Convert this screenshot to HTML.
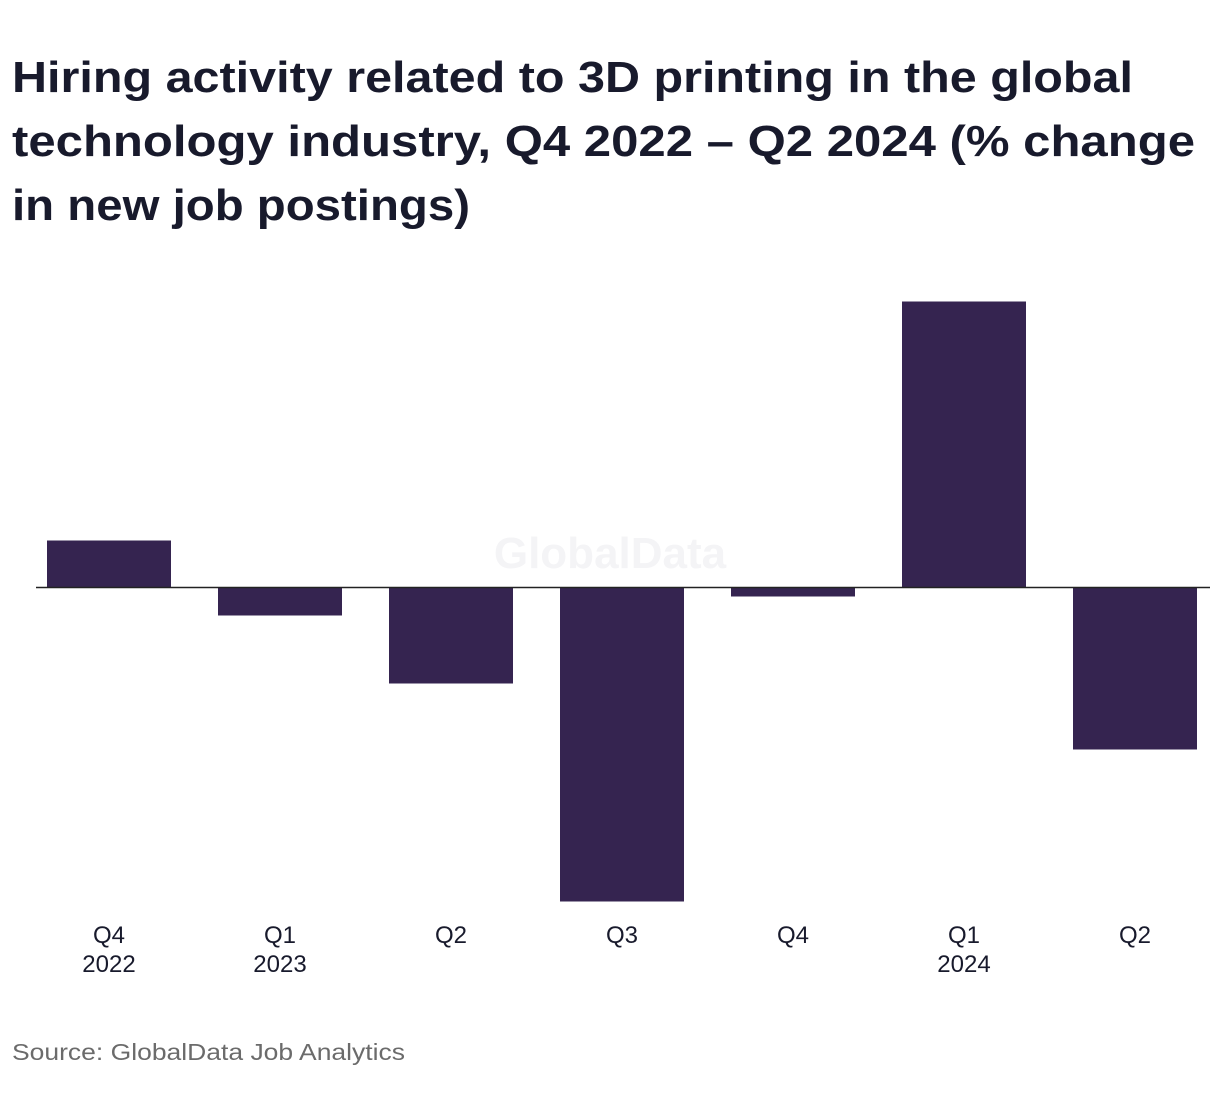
<!DOCTYPE html>
<html><head><meta charset="utf-8"><style>
html,body{margin:0;padding:0;background:#fff;}
svg{display:block;font-family:"Liberation Sans",sans-serif;}
</style></head><body>
<svg width="1220" height="1108" viewBox="0 0 1220 1108">
<g fill="#181a2c" font-weight="bold" font-size="44">
<text x="12" y="92" textLength="1121" lengthAdjust="spacingAndGlyphs">Hiring activity related to 3D printing in the global</text>
<text x="12" y="156" textLength="1183" lengthAdjust="spacingAndGlyphs">technology industry, Q4 2022 – Q2 2024 (% change</text>
<text x="12" y="220" textLength="458" lengthAdjust="spacingAndGlyphs">in new job postings)</text>
</g>
<text x="610" y="568" text-anchor="middle" font-size="44" font-weight="bold" fill="#f4f4f6">GlobalData</text>
<g id="bars"></g>
<line x1="36" x2="1210" y1="587.5" y2="587.5" stroke="#222" stroke-width="1.5"/>
<g id="labels" font-size="24" fill="#181a2c" text-anchor="middle"></g>
<text x="12" y="1060" font-size="23" fill="#6b6b6b" textLength="393" lengthAdjust="spacingAndGlyphs">Source: GlobalData Job Analytics</text>
</svg>
<script>
const categories = ["Q4 2022","Q1 2023","Q2 2023","Q3 2023","Q4 2023","Q1 2024","Q2 2024"];
const quarterLabels = ["Q4","Q1","Q2","Q3","Q4","Q1","Q2"];
const yearLabels = ["2022","2023","","","","2024",""];
const values = [4.7,-2.8,-9.6,-31.4,-0.9,28.6,-16.2];
const NS="http://www.w3.org/2000/svg";
const x0=23.5, step=171.0, barW=124;
function xCenter(i){return x0+step*(i+0.5);}
function y(v){return 587.5 - v*10;}
const bars=document.getElementById('bars');
const labels=document.getElementById('labels');
values.forEach((v,i)=>{
  const r=document.createElementNS(NS,'rect');
  r.setAttribute('x',xCenter(i)-barW/2);
  r.setAttribute('width',barW);
  r.setAttribute('y',Math.min(y(v),y(0)));
  r.setAttribute('height',Math.abs(y(v)-y(0)));
  r.setAttribute('fill','#352450');
  
  
  bars.appendChild(r);
  const t=document.createElementNS(NS,'text');
  t.setAttribute('x',xCenter(i));
  t.setAttribute('y',943);
  t.textContent=quarterLabels[i];
  
  
  labels.appendChild(t);
  if(yearLabels[i]){
    const t2=document.createElementNS(NS,'text');
    t2.setAttribute('x',xCenter(i));
    t2.setAttribute('y',972);
    t2.textContent=yearLabels[i];
    
    
    labels.appendChild(t2);
  }
});
</script>
</body></html>
